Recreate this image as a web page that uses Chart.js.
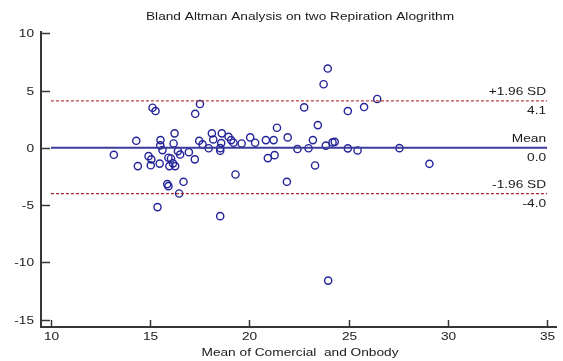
<!DOCTYPE html>
<html>
<head>
<meta charset="utf-8">
<script src="https://cdn.jsdelivr.net/npm/chart.js@4.4.0/dist/chart.umd.min.js"></script>
<style>
  html, body { margin: 0; padding: 0; background: #fff; }
</style>
</head>
<body>
<canvas id="c" width="563" height="361"></canvas>
<script>
// chart text
const chartTitle = 'Bland Altman Analysis on two Repiration Alogrithm';
const xAxisTitle = 'Mean of Comercial  and Onbody';
const xTicks = [10, 15, 20, 25, 30, 35];
const yTicks = [10, 5, 0, -5, -10, -15];

// mean of the two methods (x) and their difference (y)
const meanVals = [
  13.17, 14.30, 14.38, 14.92, 15.06, 15.03, 15.12, 15.27, 15.37, 15.52,
  15.51, 15.62, 15.48, 15.86, 15.92, 15.92, 16.05, 15.97, 16.15, 16.26,
  16.23, 16.18, 16.40, 16.51, 16.46, 16.68, 16.95, 17.25, 17.27, 17.51,
  17.47, 17.64, 17.95, 18.11, 18.18, 18.53, 18.53, 18.58, 18.61, 18.53,
  18.95, 19.08, 19.20, 19.30, 19.61, 20.04, 20.29, 20.83, 21.22, 20.93,
  21.27, 21.39, 21.93, 21.89, 22.42, 22.76, 22.98, 23.20, 23.31, 23.45,
  23.74, 23.95, 23.85, 24.19, 24.30, 23.97, 24.96, 24.96, 25.45, 25.78,
  26.44, 27.56, 29.07
];
const diffVals = [
  -0.61, 0.61, -1.60, -0.73, -1.01, -1.53, 3.50, 3.21, -5.18, 0.67,
  0.21, -0.20, -1.38, -3.17, -3.35, -0.87, -0.93, -1.60, -1.36, -1.60,
  1.26, 0.38, -0.29, -0.59, -3.99, -2.97, -0.38, -1.01, 2.97, 3.82,
  0.61, 0.30, -0.04, 1.26, 0.73, -0.03, -0.26, 0.41, 1.26, -5.97,
  0.96, 0.67, 0.44, -2.33, 0.38, 0.91, 0.44, 0.67, 0.67, -0.90,
  -0.64, 1.75, 0.91, -2.97, -0.11, 3.53, -0.04, 0.67, -1.54, 1.98,
  5.55, 6.92, 0.19, 0.47, 0.52, -11.60, 3.21, -0.05, -0.23, 3.56,
  4.26, -0.03, -1.40
];

// reference lines: mean difference and limits of agreement
const refNames = ['+1.96 SD', 'Mean', '-1.96 SD'];
const refValues = [4.1, 0.0, -4.0];
const refLabels = ['4.1', '0.0', '-4.0'];
const refSpan = [10, 35];

const AXIS = '#363636';
const TEXT = '#1a1a1a';
const FONT = '11.5px "Liberation Sans", Arial, sans-serif';
const STRETCH = 1.19; // source picture's text is wider than plain Arial

const points = meanVals.map((x, i) => ({ x, y: diffVals[i] }));
const refLine = v => refSpan.map(x => ({ x, y: v }));

function wideText(ctx, str, x, y, align, baseline) {
  ctx.save();
  ctx.translate(x, y);
  ctx.scale(STRETCH, 1);
  ctx.textAlign = align;
  ctx.textBaseline = baseline;
  ctx.fillText(str, 0, 0);
  ctx.restore();
}

const axesPlugin = {
  id: 'bland',
  afterDraw(chart) {
    const { ctx, chartArea: a, scales: { x, y } } = chart;
    ctx.save();

    // axis lines
    ctx.strokeStyle = AXIS;
    ctx.lineWidth = 2;
    ctx.beginPath();
    ctx.moveTo(a.left, a.top);
    ctx.lineTo(a.left, a.bottom);
    ctx.lineTo(a.right, a.bottom);
    ctx.stroke();

    // inward ticks + labels
    ctx.lineWidth = 1.5;
    ctx.fillStyle = TEXT;
    ctx.font = FONT;
    xTicks.forEach(v => {
      const px = Math.round(x.getPixelForValue(v)) + 0.5;
      ctx.beginPath();
      ctx.moveTo(px, a.bottom);
      ctx.lineTo(px, a.bottom - 7);
      ctx.stroke();
      wideText(ctx, String(v), px, a.bottom + 4.5, 'center', 'top');
    });
    yTicks.forEach(v => {
      const py = Math.round(y.getPixelForValue(v)) + 0.5;
      ctx.beginPath();
      ctx.moveTo(a.left, py);
      ctx.lineTo(a.left + 9, py);
      ctx.stroke();
      wideText(ctx, String(v), a.left - 7, py, 'right', 'middle');
    });

    // title and x axis title
    const cx = (a.left + a.right) / 2 + 1;
    wideText(ctx, chartTitle, cx, 20, 'center', 'alphabetic');
    wideText(ctx, xAxisTitle, cx, 356, 'center', 'alphabetic');

    // labels at right end of reference lines
    const rx = x.getPixelForValue(refSpan[1]) - 1;
    refValues.forEach((v, i) => {
      const py = y.getPixelForValue(v);
      wideText(ctx, refNames[i], rx, py - 5.5, 'right', 'alphabetic');
      wideText(ctx, refLabels[i], rx, py + 13, 'right', 'alphabetic');
    });
    ctx.restore();
  }
};

new Chart(document.getElementById('c'), {
  type: 'scatter',
  data: {
    datasets: [
      {
        type: 'line', data: refLine(refValues[0]),
        borderColor: '#b5403f', borderWidth: 1.3, borderDash: [3, 2],
        pointRadius: 0, fill: false,
      },
      {
        type: 'line', data: refLine(refValues[1]),
        borderColor: '#3b3b9c', borderWidth: 2,
        pointRadius: 0, fill: false,
      },
      {
        type: 'line', data: refLine(refValues[2]),
        borderColor: '#a8282a', borderWidth: 1.3, borderDash: [3, 2],
        pointRadius: 0, fill: false,
      },
      {
        data: points,
        pointStyle: 'circle', pointRadius: 3.6, borderWidth: 1.4,
        borderColor: '#23239a', backgroundColor: 'rgba(0,0,0,0)',
      },
    ],
  },
  options: {
    responsive: false,
    devicePixelRatio: 1,
    animation: false,
    layout: { padding: { left: 41, right: 6, top: 31, bottom: 34 } },
    plugins: { legend: { display: false }, tooltip: { enabled: false }, title: { display: false } },
    scales: {
      x: { type: 'linear', min: 9.5, max: 35.5, display: false },
      y: { type: 'linear', min: -15.65, max: 10.2, display: false },
    },
  },
  plugins: [axesPlugin],
});
</script>
</body>
</html>
